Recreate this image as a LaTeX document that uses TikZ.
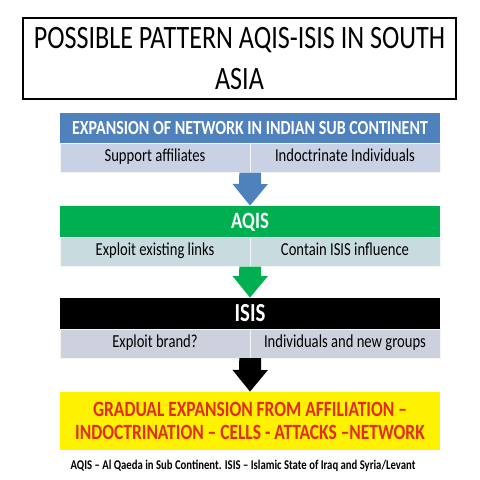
\documentclass[tikz,border=0pt]{standalone}
\usepackage{fontspec}
\setmainfont{Carlito}[FakeStretch=0.8]
\usetikzlibrary{arrows.meta}
\tikzset{>=latex}
\definecolor{hdrblue}{RGB}{79,129,189}
\definecolor{rowblue}{RGB}{200,210,228}
\definecolor{hdrgreen}{RGB}{0,176,80}
\definecolor{rowteal}{RGB}{200,220,224}
\definecolor{rowgrey}{RGB}{205,209,222}
\definecolor{textred}{RGB}{226,44,22}
\tikzset{
  header/.style={minimum width=9.5cm, inner sep=0pt, text=white, font=\bfseries},
  cell/.style={minimum width=4.75cm, minimum height=0.72cm, inner sep=0pt, draw=white!60!gray!20,
    line width=0.3pt, text height=1.6ex, text depth=0.45ex, font=\fontsize{13}{15}\selectfont},
  flow/.style={line width=15.6pt, -{Triangle[width=24.2pt,length=15.5pt]}},
}

\begin{document}
\begin{tikzpicture}[x=0.025cm, y=-0.025cm]
  \useasboundingbox (0,0) rectangle (480,480);
  % title
  \node[draw, line width=1.4pt, minimum width=10.825cm, minimum height=2.025cm, align=center,
    font=\fontsize{23.2}{28.5}\selectfont] (title) at (239.5,58.5)
    {POSSIBLE PATTERN AQIS-ISIS IN SOUTH\\ASIA};
  % first block
  \node[header, fill=hdrblue, minimum height=0.775cm, font=\bfseries\fontsize{14.2}{16}\selectfont]
    (expansion) at (250,128.5) {EXPANSION OF NETWORK IN INDIAN SUB CONTINENT};
  \node[cell, fill=rowblue] (support) at (155,158) {Support affiliates};
  \node[cell, fill=rowblue] (indoctrinate) at (345,158) {Indoctrinate Individuals};
  % second block
  \node[header, fill=hdrgreen, minimum height=0.8cm, font=\bfseries\fontsize{16.6}{18}\selectfont]
    (aqis) at (250,222) {AQIS};
  \node[cell, fill=rowteal] (links) at (155,252) {Exploit existing links};
  \node[cell, fill=rowteal] (contain) at (345,252) {Contain ISIS influence};
  % third block
  \node[header, fill=black, minimum height=0.775cm, font=\bfseries\fontsize{18.5}{20}\selectfont]
    (isis) at (250,313.5) {ISIS};
  \node[cell, fill=rowgrey] (brand) at (155,343.5) {Exploit brand?};
  \node[cell, fill=rowgrey] (groups) at (345,343.5) {Individuals and new groups};
  % result
  \node[fill=yellow, minimum width=9.5cm, minimum height=1.45cm, inner sep=0pt, align=center,
    text=textred, font=\bfseries\fontsize{15.5}{16}\selectfont] (gradual) at (250,421)
    {GRADUAL EXPANSION FROM AFFILIATION --\\INDOCTRINATION -- CELLS - ATTACKS --NETWORK};
  \node[font=\bfseries\fontsize{9.5}{11}\selectfont] (note) at (243,466)
    {AQIS -- Al Qaeda in Sub Continent. ISIS -- Islamic State of Iraq and Syria/Levant};
  % block arrows
  \draw[flow, hdrblue] (support.south east) -- (aqis.north);
  \draw[flow, hdrgreen] (links.south east) -- (isis.north);
  \draw[flow, black] (brand.south east) -- (gradual.north);
\end{tikzpicture}
\end{document}
